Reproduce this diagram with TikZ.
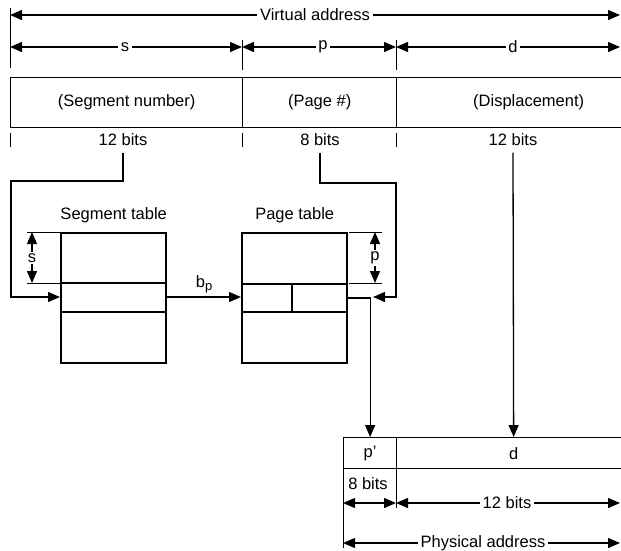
\documentclass[tikz,border=0pt]{standalone}
\usepackage{fontspec}
\setmainfont{Liberation Sans}
\usetikzlibrary{arrows.meta,positioning}

\begin{document}
\begin{tikzpicture}[x=1pt, y=-1pt, >={Triangle[length=12pt,width=10pt]},
  font=\fontsize{16.5}{19}\selectfont, line width=1.3pt,
  fld/.style={draw, minimum height=50pt, inner sep=0pt, anchor=north west},
  tbl/.style={draw, line width=2.4pt, minimum width=105pt,
              minimum height=130pt, inner sep=0pt, anchor=north west},
  lab/.style={inner sep=2pt},
  tick/.style={line width=1pt}]
  \useasboundingbox (0,0) rectangle (621,550);

  % virtual address
  \node[lab] (va) at (315,15) {Virtual address};
  \coordinate (vaL) at (10,15);
  \coordinate (vaR) at (620,15);
  \draw[->] (va) -- (vaL);
  \draw[->] (va) -- (vaR);

  \node[lab] (s) at (125,47) {s};
  \node[lab] (p) at (323,47) {p};
  \node[lab] (d) at (513,47) {d};
  \coordinate (c0) at (10,47);
  \coordinate (c1) at (242,47);
  \coordinate (c2) at (396,47);
  \coordinate (c3) at (620,47);
  \draw[->] (s) -- (c0);
  \draw[->] (s) -- (c1);
  \draw[->] (p) -- (c1);
  \draw[->] (p) -- (c2);
  \draw[->] (d) -- (c2);
  \draw[->] (d) -- (c3);
  \draw[tick] (10,8) -- (10,68);
  \draw[tick] (242,40) -- (242,70);
  \draw[tick] (396,40) -- (396,70);

  \node[fld, minimum width=232pt] (segF)  at (10,77)  {(Segment number)};
  \node[fld, minimum width=154pt] (pageF) at (242,77) {(Page \#)};
  \node[fld, minimum width=264pt] (dispF) at (396,77) {(Displacement)};

  \draw[tick] (10,133) -- (10,147);
  \draw[tick] (242,133) -- (242,147);
  \draw[tick] (396,133) -- (396,147);
  \node[lab] (bS) at (123,140) {12 bits};
  \node[lab] (bP) at (320,140) {8 bits};
  \node[lab] (bD) at (513,140) {12 bits};

  % segment table
  \node[tbl] (segT) at (60,232) {};
  \node[above=5pt of segT] (segL) {Segment table};
  \draw (60,283) -- (165,283);
  \draw (60,312) -- (165,312);
  \draw[tick] (27,232) -- (60,232);
  \draw[tick] (27,283) -- (60,283);
  \node[inner sep=1pt] (sd) at (32,258) {s};
  \draw[->] (sd) -- (32,232);
  \draw[->] (sd) -- (32,283);
  \draw[->] ([yshift=-4pt]bS.south) |- (11,181) |- (segT.west |- 0,297);

  % page table
  \node[tbl] (pageT) at (241,232) {};
  \node[above=5pt of pageT] (pageL) {Page table};
  \draw (241,284) -- (346,284);
  \draw (241,312) -- (346,312);
  \draw (292,284) -- (292,312);
  \draw[tick] (349,232) -- (382,232);
  \draw[tick] (349,283) -- (382,283);
  \node[inner sep=1pt] (pd) at (375,258) {p};
  \draw[->] (pd) -- (375,232);
  \draw[->] (pd) -- (375,283);
  \draw[->] ([yshift=-4pt]bP.south) |- (396,183) |- (373,297);

  \draw[->] (segT.east |- 0,297) -- (pageT.west |- 0,297)
    node[midway, above] {b\raisebox{-0.35ex}{\fontsize{13}{14}\selectfont p}};

  % physical address
  \node[fld, minimum width=53pt, minimum height=31pt] (pf) at (343,437) {p’};
  \node[fld, minimum width=234pt, minimum height=31pt] (df) at (396,437) {d};
  \draw[->] (pageT.east |- 0,298) -| (pf.north);
  \draw[->] ([yshift=-4pt]bD.south) -- (df.north);

  \draw[tick] (343,468) -- (343,548);
  \draw[tick] (396,468) -- (396,508);
  \node[lab] (b8) at (368,484) {8 bits};
  \coordinate (e0) at (343,503);
  \coordinate (e1) at (396,503);
  \coordinate (e2) at (620,503);
  \draw[<->] (e0) -- (e1);
  \node[lab] (b12) at (507,503) {12 bits};
  \draw[->] (b12) -- (e1);
  \draw[->] (b12) -- (e2);

  \node[lab] (pa) at (483,543) {Physical address};
  \coordinate (f0) at (343,543);
  \coordinate (f1) at (620,543);
  \draw[->] (pa) -- (f0);
  \draw[->] (pa) -- (f1);
\end{tikzpicture}
\end{document}
